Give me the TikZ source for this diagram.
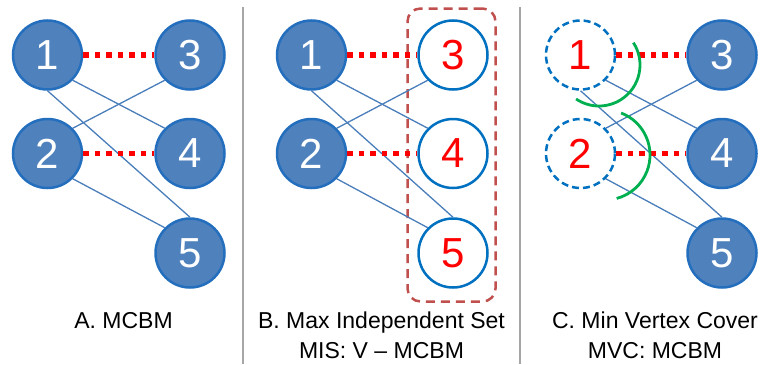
\documentclass[tikz,border=0pt]{standalone}
\usepackage{fontspec}
\setmainfont{Liberation Sans}
\definecolor{nodefill}{RGB}{79,129,189}
\definecolor{nodeborder}{RGB}{36,110,190}
\definecolor{openborder}{RGB}{0,112,192}
\definecolor{edgecol}{RGB}{74,126,187}
\definecolor{rectcol}{RGB}{192,80,77}
\definecolor{greencol}{RGB}{0,176,80}
\definecolor{sepcol}{RGB}{166,166,166}
\begin{document}
\begin{tikzpicture}[x=1pt,y=-1pt,
  vbase/.style={circle, minimum size=69pt, inner sep=0pt, line width=2.5pt,
    font=\fontsize{42}{42}\selectfont},
  filled/.style={vbase, fill=nodefill, draw=nodeborder, text=white},
  open/.style={vbase, fill=white, draw=openborder, text=red},
  dcirc/.style={vbase, draw=openborder, dash pattern=on 7pt off 4pt, text=red},
  edgeline/.style={draw=edgecol, line width=1.3pt},
  matchline/.style={draw=red, line width=5.5pt, dash pattern=on 5.5pt off 6pt},
  coverarc/.style={draw=greencol, line width=2.8pt},
  sepline/.style={draw=sepcol, line width=1.3pt},
  setbox/.style={draw=rectcol, line width=2.5pt, dash pattern=on 9pt off 6pt,
    rounded corners=13pt, minimum width=88pt, minimum height=293pt, inner sep=0pt},
  lab/.style={font=\fontsize{23}{28}\selectfont, anchor=base, inner sep=0pt}
]
\useasboundingbox (0,0) rectangle (762,364);

% separators
\coordinate (s1a) at (243,7);  \coordinate (s1b) at (243,364);
\coordinate (s2a) at (520,7);  \coordinate (s2b) at (520,364);
\draw[sepline] (s1a) -- (s1b);
\draw[sepline] (s2a) -- (s2b);

% ---------- Panel A ----------
\node[filled] (a1) at (47.5,55) {1};
\node[filled] (a2) at (47.5,153.5) {2};
\node[filled] (a3) at (190,55) {3};
\node[filled] (a4) at (190,153.5) {4};
\node[filled] (a5) at (190,253) {5};
\draw[edgeline] (a1.south east) -- (a4.north west);
\draw[edgeline] (a1.south) -- (a5.north);
\draw[edgeline] (a2.north east) -- (a3.south west);
\draw[edgeline] (a2.south east) -- (a5.north west);
\draw[matchline] (a1.east) -- (a3.west);
\draw[matchline] (a2.east) -- (a4.west);
\node[lab] (labA) at (123.5,328) {A. MCBM};

% ---------- Panel B ----------
\node[setbox] (setB) at (451.5,155) {};
\node[filled] (b1) at (311.5,55) {1};
\node[filled] (b2) at (311.5,153.5) {2};
\node[open] (b3) at (453,55) {3};
\node[open] (b4) at (453,153.5) {4};
\node[open] (b5) at (453,253) {5};
\draw[edgeline] (b1.south east) -- (b4.north west);
\draw[edgeline] (b1.south) -- (b5.north);
\draw[edgeline] (b2.north east) -- (b3.south west);
\draw[edgeline] (b2.south east) -- (b5.north west);
\draw[matchline] (b1.east) -- (b3.west);
\draw[matchline] (b2.east) -- (b4.west);
\node[lab] (labB1) at (381.5,328) {B. Max Independent Set};
\node[lab] (labB2) at (381.5,358) {MIS: V – MCBM};

% ---------- Panel C ----------
\node[dcirc] (c1) at (580.5,55) {1};
\node[dcirc] (c2) at (580.5,153.5) {2};
\node[filled] (c3) at (722,55) {3};
\node[filled] (c4) at (722,153.5) {4};
\node[filled] (c5) at (722,253) {5};
\draw[edgeline] (c1.south east) -- (c4.north west);
\draw[edgeline] (c1.south) -- (c5.north);
\draw[edgeline] (c2.north east) -- (c3.south west);
\draw[edgeline] (c2.south east) -- (c5.north west);
\draw[matchline] (c1.east) -- (c3.west);
\draw[matchline] (c2.east) -- (c4.west);
\draw[coverarc] (599,65) ++(-33:41) arc[start angle=-33, end angle=124, radius=41];
\draw[coverarc] (605,155) ++(-69:45) arc[start angle=-69, end angle=75, radius=45];
\node[lab] (labC1) at (655,328) {C. Min Vertex Cover};
\node[lab] (labC2) at (655,358) {MVC: MCBM};
\end{tikzpicture}
\end{document}
